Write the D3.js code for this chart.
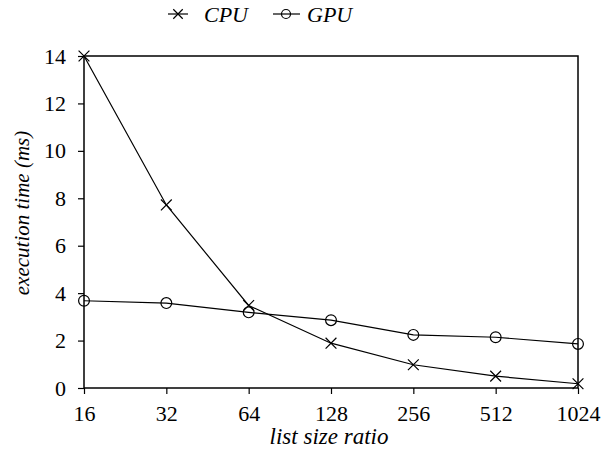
<!DOCTYPE html>
<html>
<head>
<meta charset="utf-8">
<script src="https://cdn.jsdelivr.net/npm/d3@7"></script>
<style>
  body { margin: 0; background: #fff; }
</style>
</head>
<body>
<div id="chart"></div>
<script>
// data
var ratios = [16, 32, 64, 128, 256, 512, 1024];
var cpuTimes = [14, 7.72, 3.48, 1.89, 0.98, 0.5, 0.18];
var gpuTimes = [3.68, 3.58, 3.19, 2.86, 2.24, 2.14, 1.86];
var yTicks = [0, 2, 4, 6, 8, 10, 12, 14];

var serif = "Liberation Serif";

var outerWidth = 602,
    outerHeight = 459,
    margin = {top: 56, right: 24, bottom: 71, left: 84},
    width = outerWidth - margin.left - margin.right,
    height = outerHeight - margin.top - margin.bottom;

var svg = d3.select("#chart")
    .append("svg")
    .attr("width", outerWidth)
    .attr("height", outerHeight)
    .attr("font-family", serif);

var xScale = d3.scalePoint()
    .domain(ratios)
    .range([0, width]);

var yScale = d3.scaleLinear()
    .domain([0, 14])
    .range([height, 0]);

var chart = svg.append("g")
    .attr("transform", "translate(" + margin.left + "," + margin.top + ")");

// frame around the plot
chart.append("rect")
    .attr("width", width)
    .attr("height", height)
    .attr("fill", "none")
    .attr("stroke", "#000")
    .attr("stroke-width", 1.5);

var xAxis = d3.axisBottom(xScale).tickSize(6).tickPadding(11);
var yAxis = d3.axisLeft(yScale).tickValues(yTicks).tickSize(6).tickPadding(12);

chart.append("g")
    .attr("class", "x-axis")
    .attr("transform", "translate(0," + height + ")")
    .call(xAxis);

chart.append("g")
    .attr("class", "y-axis")
    .call(yAxis);

// d3 puts sans-serif on the axis groups, swap it for the serif face
chart.selectAll(".x-axis, .y-axis")
    .attr("font-family", serif)
    .attr("font-size", 22);
chart.selectAll(".x-axis .domain, .y-axis .domain").remove();
chart.selectAll(".tick line").attr("stroke", "#000").attr("stroke-width", 1.2);
chart.selectAll(".tick text")
    .attr("font-family", serif)
    .attr("font-size", 22)
    .attr("fill", "#000");

// lines
var line = d3.line()
    .x(function(d, i) { return xScale(ratios[i]); })
    .y(function(d) { return yScale(d); });

chart.append("path")
    .datum(cpuTimes)
    .attr("fill", "none")
    .attr("stroke", "#000")
    .attr("stroke-width", 1.2)
    .attr("d", line);

chart.append("path")
    .datum(gpuTimes)
    .attr("fill", "none")
    .attr("stroke", "#000")
    .attr("stroke-width", 1.2)
    .attr("d", line);

// cross markers for cpu
var cross = d3.symbol().type(d3.symbolX).size(78);
chart.selectAll(".cpu-mark")
    .data(cpuTimes)
    .enter()
    .append("path")
    .attr("class", "cpu-mark")
    .attr("d", cross)
    .attr("fill", "none")
    .attr("stroke", "#000")
    .attr("stroke-width", 1.2)
    .attr("transform", function(d, i) {
      return "translate(" + xScale(ratios[i]) + "," + yScale(d) + ")";
    });

// circle markers for gpu
chart.selectAll(".gpu-mark")
    .data(gpuTimes)
    .enter()
    .append("circle")
    .attr("class", "gpu-mark")
    .attr("cx", function(d, i) { return xScale(ratios[i]); })
    .attr("cy", function(d) { return yScale(d); })
    .attr("r", 5.4)
    .attr("fill", "none")
    .attr("stroke", "#000")
    .attr("stroke-width", 1.2);

// axis titles
svg.append("text")
    .attr("x", 329)
    .attr("y", 444)
    .attr("text-anchor", "middle")
    .attr("font-family", serif)
    .attr("font-size", 23)
    .attr("font-style", "italic")
    .text("list size ratio");

svg.append("text")
    .attr("transform", "translate(29,213) rotate(-90)")
    .attr("text-anchor", "middle")
    .attr("font-family", serif)
    .attr("font-size", 21)
    .attr("font-style", "italic")
    .text("execution time (ms)");

// legend
var legend = svg.append("g").attr("transform", "translate(0,14)");
var legendCross = d3.symbol().type(d3.symbolX).size(60);

legend.append("line")
    .attr("x1", 168).attr("x2", 188).attr("y1", 0).attr("y2", 0)
    .attr("stroke", "#000").attr("stroke-width", 1.2);
legend.append("path")
    .attr("d", legendCross)
    .attr("transform", "translate(178,0)")
    .attr("fill", "none").attr("stroke", "#000").attr("stroke-width", 1.2);
legend.append("text")
    .attr("x", 204).attr("y", 8)
    .attr("font-family", serif)
    .attr("font-size", 22)
    .attr("font-style", "italic")
    .text("CPU");

legend.append("line")
    .attr("x1", 273).attr("x2", 300).attr("y1", 0).attr("y2", 0)
    .attr("stroke", "#000").attr("stroke-width", 1.2);
legend.append("circle")
    .attr("cx", 286).attr("cy", 0).attr("r", 4.5)
    .attr("fill", "none").attr("stroke", "#000").attr("stroke-width", 1.2);
legend.append("text")
    .attr("x", 307).attr("y", 8)
    .attr("font-family", serif)
    .attr("font-size", 22)
    .attr("font-style", "italic")
    .text("GPU");
</script>
</body>
</html>
